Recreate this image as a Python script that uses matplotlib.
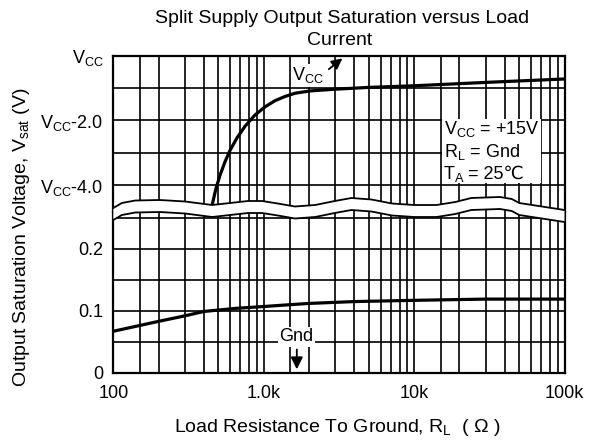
import numpy as np
import matplotlib
matplotlib.use("Agg")
import matplotlib.pyplot as plt
from matplotlib.patches import Polygon, Rectangle
from matplotlib.lines import Line2D
from matplotlib.ticker import NullFormatter
from matplotlib.transforms import blended_transform_factory

plt.rcParams.update({'font.family': ['Liberation Sans', 'DejaVu Sans'],
                     'mathtext.fontset': 'custom',
                     'mathtext.rm': 'Liberation Sans',
                     'mathtext.it': 'Liberation Sans:italic',
                     'mathtext.bf': 'Liberation Sans:bold',
                     'font.size': 13})

# V_CC curve, volts relative to V_CC
r_vcc = [454, 482, 513, 554, 597, 665, 752, 877, 1022, 1191, 1388, 1618,
         2036, 2895, 5000, 10000, 32000, 100000]
v_vcc = [-4.62, -4.10, -3.69, -3.27, -2.93, -2.54, -2.18, -1.83, -1.58,
         -1.39, -1.26, -1.16, -1.09, -1.04, -0.98, -0.93, -0.82, -0.72]

# Gnd curve, volts
r_gnd = [100, 200, 300, 400, 650, 1000, 1500, 2000, 4000, 10000, 30000,
         100000]
v_gnd = [0.067, 0.083, 0.092, 0.099, 0.104, 0.107, 0.110, 0.112, 0.115,
         0.117, 0.119, 0.119]

x_major = [100, 1000, 10000, 100000]
x_labels = ['100', '1.0k', '10k', '100k']
top_ticks = [-4, -3, -2, -1, 0]
top_labels = [r'V$_{\mathrm{CC}}$-4.0', '', r'V$_{\mathrm{CC}}$-2.0', '',
              r'V$_{\mathrm{CC}}$']
bot_ticks = [0, 0.05, 0.1, 0.15, 0.2, 0.25]
bot_labels = ['0', '', '0.1', '', '0.2', '']

# break band (upper edge, pixels from top)
wave_r = [100, 114, 140, 204, 300, 454, 598, 787, 975, 1240, 1614, 2200,
          2970, 3830, 5200, 7130, 10000, 14100, 18800, 24000, 37200,
          44600, 50000, 100000]
wave_px = [208, 203, 200.5, 200, 201.5, 205, 203, 201, 201, 203.5, 206.5,
           205, 201, 198, 199.5, 203.5, 205, 205, 202, 198, 197, 199, 203,
           210]

W, H = 590, 441
fig = plt.figure(figsize=(W / 100, H / 100), dpi=100)
left, right = 113.3 / W, 564.5 / W
ax_top = fig.add_axes([left, 1 - 212 / H, right - left, (212 - 55.7) / H])
ax_bot = fig.add_axes([left, 1 - 372.7 / H, right - left, (372.7 - 212) / H])

minor = [m * d for d in [100, 1000, 10000] for m in [1.5, 2, 3, 4, 5, 6, 7, 8, 9]]
for ax in (ax_top, ax_bot):
    ax.set_xscale('log')
    ax.set_xlim(100, 100000)
    ax.set_xticks(x_major)
    ax.set_xticks(minor, minor=True)
    ax.xaxis.set_minor_formatter(NullFormatter())
    ax.grid(True, which='both', axis='x', color='black', lw=1.2)
    ax.grid(True, which='major', axis='y', color='black', lw=1.2)
    ax.tick_params(which='both', length=0, labelsize=13)
    for s in ax.spines.values():
        s.set_linewidth(1.6)
ax_top.set_xticklabels([])
ax_bot.set_xticklabels(x_labels)
ax_bot.tick_params(axis='x', pad=9)
ax_top.tick_params(axis='y', pad=7)
ax_bot.tick_params(axis='y', pad=7)
ax_top.spines['bottom'].set_visible(False)
ax_bot.spines['top'].set_visible(False)

ax_top.set_ylim(-(212 - 55.7) / 32.33, 0)
ax_top.set_yticks(top_ticks)
ax_top.set_yticklabels(top_labels)
ax_bot.set_ylim(0, (372.7 - 212) / 618.5)
ax_bot.set_yticks(bot_ticks)
ax_bot.set_yticklabels(bot_labels)

ax_top.plot(r_vcc, v_vcc, color='black', lw=2.3, zorder=3)
ax_bot.plot(r_gnd, v_gnd, color='black', lw=2.3, zorder=3)

# V_CC arrow label
ax_top.text(1970, -0.6, r'V$_{\mathrm{CC}}$', ha='center', va='center',
            fontsize=13, zorder=5,
            bbox=dict(facecolor='white', edgecolor='none', pad=1))
ax_top.annotate('', xy=(3450, -0.03), xytext=(2620, -0.47),
                arrowprops=dict(arrowstyle='-|>', color='black', lw=1.3,
                                mutation_scale=16), zorder=5)

# condition box
ax_top.add_patch(Rectangle((15300, -3.95), 70000 - 15300, 2.0,
                           facecolor='white', edgecolor='none', zorder=4))
x0 = 15700
ax_top.text(x0, -2.42, r'V$_{\mathrm{CC}}$ = +15V', ha='left',
            va='baseline', fontsize=13, zorder=5)
ax_top.text(x0, -3.12, r'R$_{\mathrm{L}}$ = Gnd', ha='left',
            va='baseline', fontsize=13, zorder=5)
t_T = ax_top.text(x0, -3.8, 'T', ha='left', va='baseline', fontsize=13,
                  zorder=5)
t_A = ax_top.annotate('A', xy=(1, -3.8), xycoords=(t_T, 'data'),
                      xytext=(0.3, -2.8), textcoords='offset points',
                      ha='left', va='baseline', fontsize=9.2, zorder=5)
ax_top.annotate(' = 25\u2103', xy=(1, -3.8), xycoords=(t_A, 'data'),
                ha='left', va='baseline', fontsize=13, zorder=5)

# Gnd arrow label
ax_bot.text(1656, 0.058, 'Gnd', ha='center', va='center', fontsize=13,
            zorder=5, bbox=dict(facecolor='white', edgecolor='none', pad=1))
ax_bot.annotate('', xy=(1660, 0.001), xytext=(1660, 0.042),
                arrowprops=dict(arrowstyle='-|>', color='black', lw=1.3,
                                mutation_scale=18), zorder=5)

# break band
tr = blended_transform_factory(ax_bot.transData, fig.transFigure)
up = [1 - p / H for p in wave_px]
lo = [1 - (p + 12) / H for p in wave_px]
verts = list(zip(wave_r, up)) + list(zip(wave_r[::-1], lo[::-1]))
fig.add_artist(Polygon(verts, closed=True, facecolor='white', edgecolor='none',
                       transform=tr, zorder=10))
fig.add_artist(Line2D(wave_r, up, color='black', lw=1.3, transform=tr, zorder=11))
fig.add_artist(Line2D(wave_r, lo, color='black', lw=1.3, transform=tr, zorder=11))

fig.text(342 / W, 1 - 23 / H, 'Split Supply Output Saturation versus Load',
         ha='center', va='baseline', fontsize=14)
fig.text(340 / W, 1 - 45 / H, 'Current', ha='center', va='baseline',
         fontsize=14)
fig.text(338 / W, 1 - 431.7 / H,
         r'Load Resistance To Ground, R$_{\mathrm{L}}$  ( $\Omega$ )',
         ha='center', va='baseline', fontsize=14)
fig.text(22 / W, 1 - 237 / H,
         r'Output Saturation Voltage, V$_{\mathrm{sat}}$ (V)',
         ha='center', va='center', rotation=90, fontsize=14)

fig.savefig('out.png', dpi=100)
